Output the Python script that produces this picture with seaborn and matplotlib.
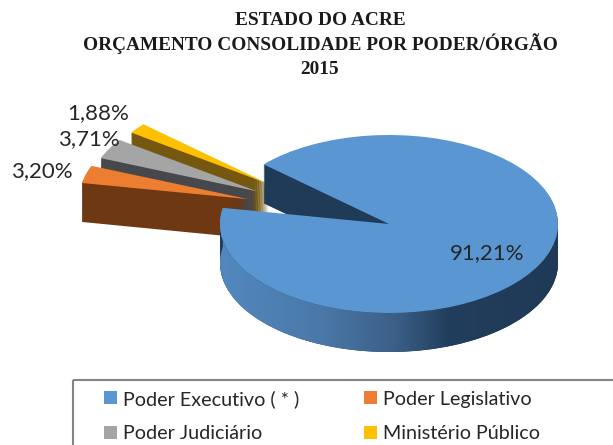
# %% orçamento consolidado - pizza 3D
import numpy as np
import matplotlib
matplotlib.use("Agg")
import matplotlib.pyplot as plt
import seaborn as sns
from matplotlib.colors import LinearSegmentedColormap
from matplotlib.patches import Polygon, Rectangle
from matplotlib.transforms import Affine2D

categorias = ["Poder Executivo ( * )", "Poder Legislativo", "Poder Judiciário", "Ministério Público"]
valores = [91.21, 3.20, 3.71, 1.88]
titulo = ["ESTADO DO ACRE", "ORÇAMENTO CONSOLIDADE POR PODER/ÓRGÃO", "2015"]

cores = ["#5a97d2", "#ed7d31", "#a5a5a5", "#ffc000"]
cores_lado = ["#1f3b58", "#6e3812", "#47484c", "#75570f"]
explode = [0, 0.88, 0.88, 0.88]
ordem_z = [30, 20, 10, 0]
# ajuste fino das fatias destacadas, em pixels
ajuste = [(0, 0), (2, 3), (-1, -5), (-4, -9)]

sns.set_theme(style="white")
plt.rcParams["font.family"] = ["Lato", "DejaVu Sans"]

L, H = 613, 445
fig = plt.figure(figsize=(L / 100, H / 100), dpi=100)
ax = fig.add_axes([0, 0, 1, 1])

# centro e raios da elipse em pixels
cx, cy, rx, ry = 389, 224, 169, 89
prof = 39 / ry
inicio = 137.9


def desenha(centro_y, cor, extra):
    w, _ = ax.pie(valores, colors=cor, explode=explode, startangle=inicio,
                  counterclock=False, center=(0, centro_y), normalize=True,
                  wedgeprops={"linewidth": 0})
    for i, p in enumerate(w):
        p.set_zorder(ordem_z[i] + extra)
        c0, c1 = p.center
        p.set_center((c0 + ajuste[i][0] / rx, c1 + ajuste[i][1] / ry))
    return w


# lados: varias camadas empilhadas
n = 40
for k in range(n, 0, -1):
    desenha(-prof * k / n, cores_lado, 1 + (n - k) * 0.1)
topo = desenha(0, cores, 8)

# degrade na parede frontal da fatia principal
t = np.radians(np.linspace(topo[0].theta1, 0, 120))
xa, ya = np.cos(t), np.sin(t)
contorno = np.r_[np.c_[xa, ya], np.c_[xa, ya - prof][::-1]]
cmap = LinearSegmentedColormap.from_list(
    "lado", [(0, "#5288bf"), (0.3, "#4a78a8"), (0.52, "#3b5f88"), (0.68, "#213e5c"), (1, "#1f3a56")])
img = ax.imshow(np.linspace(0, 1, 256)[None, :], cmap=cmap, aspect="auto",
                extent=(-1, 1, -1 - prof, 0.3), zorder=36)
img.set_clip_path(Polygon(contorno, closed=True, transform=ax.transData))

ax.set_aspect("auto")
ax.set_xlim(-cx / rx, (L - cx) / rx)
ax.set_ylim((cy - H) / ry, cy / ry)
ax.axis("off")

# transformacao em pixels da imagem (origem no topo)
px = Affine2D().scale(1 / L, -1 / H).translate(0, 1) + fig.transFigure


def rotulo(v):
    return f"{v:.2f}".replace(".", ",") + "%"


pos_rotulos = [(487, 253), (42, 171), (89, 139), (98, 113)]
for v, (x, y) in zip(valores, pos_rotulos):
    fig.text(x, y, rotulo(v), transform=px, ha="center", va="center",
             fontsize=16, color="#262626", zorder=50)

for linha, y in zip(titulo, [25, 50, 74]):
    fig.text(320, y, linha, transform=px, ha="center", va="baseline",
             family="Liberation Serif", fontweight="bold", fontsize=13.9,
             color="#1a1a1a")

# caixa da legenda (cortada pela borda da imagem)
fig.add_artist(Rectangle((73, 380), 700, 200, transform=px, fill=False,
                         edgecolor="#858585", linewidth=1.5))
idx = [0, 2, 1, 3]
leg = fig.legend([topo[i] for i in idx], [categorias[i] for i in idx], ncol=2,
                 loc="upper left", bbox_to_anchor=(86, 372), bbox_transform=px,
                 frameon=False, fontsize=14.2, handlelength=0.66, handleheight=0.66,
                 handletextpad=0.3, columnspacing=3.3, labelspacing=0.9)
for tx in leg.get_texts():
    tx.set_color("#262626")

plt.savefig("out.png", dpi=100)
